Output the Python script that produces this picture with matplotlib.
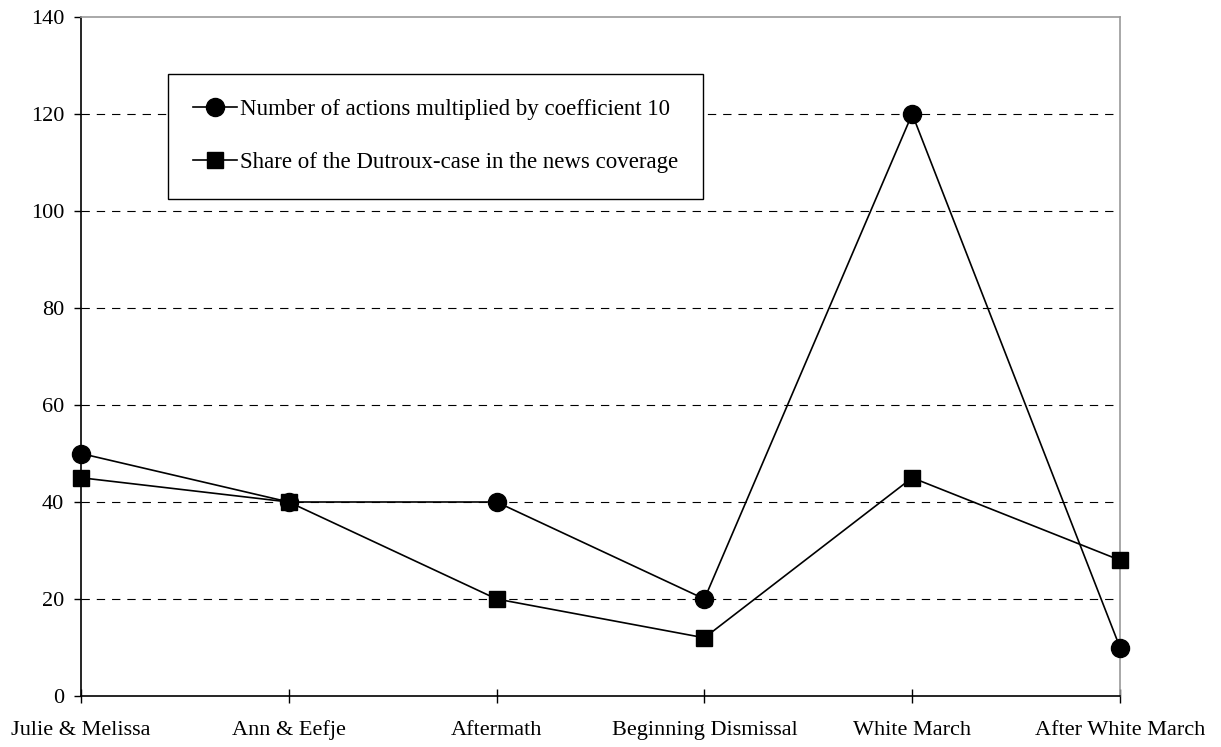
import matplotlib
matplotlib.use("Agg")
import matplotlib.pyplot as plt

plt.rcParams['font.family'] = ['Liberation Serif', 'DejaVu Serif']
plt.rcParams['lines.scale_dashes'] = False

phases = ['Julie & Melissa', 'Ann & Eefje', 'Aftermath',
          'Beginning Dismissal', 'White March', 'After White March']
actions_x10 = [50, 40, 40, 20, 120, 10]
news_share = [45, 40, 20, 12, 45, 28]
y_ticks = [0, 20, 40, 60, 80, 100, 120, 140]

fig = plt.figure(figsize=(12.21, 7.47), dpi=100)
ax = fig.add_axes([81 / 1221, (747 - 696) / 747, 1039 / 1221, 679 / 747])

x = list(range(len(phases)))
ax.plot(x, actions_x10, color='black', lw=1.2, marker='o', ms=13,
        label='Number of actions multiplied by coefficient 10', clip_on=False, zorder=3)
ax.plot(x, news_share, color='black', lw=1.2, marker='s', ms=11,
        label='Share of the Dutroux-case in the news coverage', clip_on=False, zorder=3)

ax.set_xlim(0, len(phases) - 1)
ax.set_ylim(0, 140)
ax.set_yticks(y_ticks)
ax.set_xticks(x)
ax.set_xticklabels(phases)

# dashed horizontal gridlines between the bottom and top frame
for y in y_ticks[1:-1]:
    ax.axhline(y, color='black', lw=0.8, dashes=(6, 5), zorder=1)

ax.spines['left'].set_color('black')
ax.spines['bottom'].set_color('black')
ax.spines['top'].set_color('#999999')
ax.spines['right'].set_color('#999999')
for s in ax.spines.values():
    s.set_linewidth(1.2)

ax.tick_params(axis='y', direction='out', length=5, width=1, pad=7, labelsize=16)
ax.tick_params(axis='x', direction='inout', length=10, width=1, pad=23, labelsize=16)
for lbl in ax.get_xticklabels():
    lbl.set_verticalalignment('baseline')

leg = ax.legend(loc='upper left', bbox_to_anchor=(0.0837, 0.916), fontsize=16.5,
                frameon=True, fancybox=False, edgecolor='black', framealpha=1,
                handlelength=1.9, handletextpad=0.15, labelspacing=1.4,
                borderpad=1.1, borderaxespad=0)
leg.get_frame().set_linewidth(1.0)

fig.savefig('out.png', dpi=100)
